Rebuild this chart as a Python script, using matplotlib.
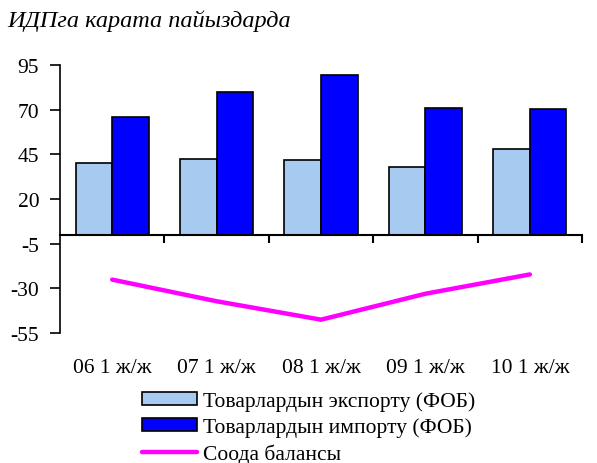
import numpy as np
import matplotlib
matplotlib.use('Agg')
import matplotlib.pyplot as plt
import matplotlib.transforms as mtransforms

plt.rcParams['font.family'] = ['Liberation Serif', 'DejaVu Serif']
plt.rcParams['axes.unicode_minus'] = False

categories = ['06 1 ж/ж', '07 1 ж/ж', '08 1 ж/ж', '09 1 ж/ж', '10 1 ж/ж']
export = [40.2, 42.5, 42.0, 37.8, 47.7]
imports = [65.9, 79.9, 89.6, 70.9, 70.2]
balance = [-25.1, -37.2, -47.5, -33.0, -22.2]

fig = plt.figure(figsize=(5.97, 4.64), dpi=100)
ax = fig.add_axes([0.1005, 0.280, 0.8745, 0.578])

x = np.arange(len(categories))
w = 0.35
b1 = ax.bar(x - w/2, export, w, color='#A6CAF0', edgecolor='black', linewidth=1.2,
            label='Товарлардын экспорту (ФОБ)', zorder=2)
b2 = ax.bar(x + w/2, imports, w, color='#0000FF', edgecolor='black', linewidth=1.2,
            label='Товарлардын импорту (ФОБ)', zorder=2)
l1, = ax.plot(x, balance, color='#FF00FF', linewidth=3.2, solid_capstyle='round',
              label='Соода балансы', zorder=3)

ax.set_ylim(-55, 95)
ax.set_yticks([95, 70, 45, 20, -5, -30, -55])
ax.set_xlim(-0.5, 4.5)
ax.set_xticks(np.arange(0.5, 5, 1))
ax.set_xticklabels([])

ax.spines['top'].set_visible(False)
ax.spines['right'].set_visible(False)
ax.spines['bottom'].set_position(('data', 0))
ax.spines['bottom'].set_linewidth(1.5)
ax.spines['left'].set_linewidth(1.2)
ax.spines['bottom'].set_zorder(4)
ax.tick_params(axis='y', direction='out', length=7, width=1.2, labelsize=15.5, pad=8)
ax.tick_params(axis='x', direction='out', length=6, width=1.5)

trans = mtransforms.blended_transform_factory(ax.transData, ax.transAxes)
for xi, lab in zip(x, categories):
    ax.text(xi, -0.128, lab, transform=trans, ha='center', va='center', fontsize=15.5)

fig.text(0.012, 0.955, 'ИДПга карата пайыздарда', fontsize=17.5, style='italic',
         ha='left', va='center')

fig.legend(handles=[b1, b2, l1], loc='upper left', bbox_to_anchor=(0.238, 0.154),
           frameon=False, fontsize=15.5, handlelength=2.55, handleheight=0.55,
           handletextpad=0.3, labelspacing=0.28, borderpad=0, borderaxespad=0)

fig.savefig('out.png', dpi=100)
